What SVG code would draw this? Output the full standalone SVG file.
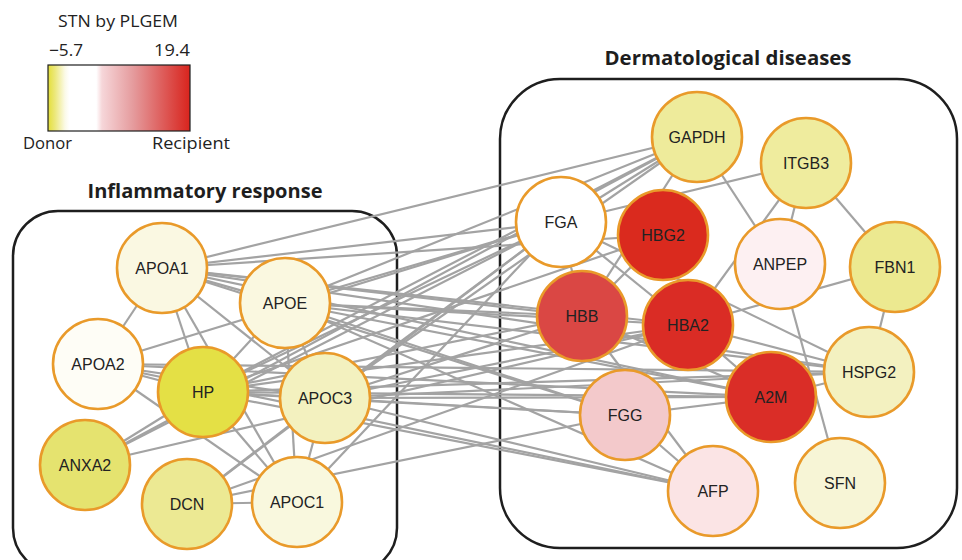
<svg xmlns="http://www.w3.org/2000/svg" width="962" height="560" viewBox="0 0 962 560">
<defs>
<linearGradient id="lg" x1="0" y1="0" x2="1" y2="0">
<stop offset="0" stop-color="#e4df3a"/>
<stop offset="0.05" stop-color="#ece87c"/>
<stop offset="0.12" stop-color="#fbfae8"/>
<stop offset="0.15" stop-color="#ffffff"/>
<stop offset="0.34" stop-color="#ffffff"/>
<stop offset="0.38" stop-color="#f6d6d9"/>
<stop offset="0.6" stop-color="#e59b9d"/>
<stop offset="0.8" stop-color="#de5f5d"/>
<stop offset="1" stop-color="#d8241d"/>
</linearGradient>
</defs>
<style>
.box{fill:none;stroke:#1e1e1e;stroke-width:2.5}
.title{font-family:"Open Sans","Liberation Sans",sans-serif;font-weight:700;font-size:19px;fill:#1e1e1e;text-anchor:middle}
.leg{font-family:"Open Sans","Liberation Sans",sans-serif;font-size:16.5px;fill:#222}
#edges line{stroke:#a3a3a3;stroke-width:2.2}
.node circle{stroke:#e99a2a;stroke-width:2.6}
.node text{font-family:"Liberation Sans",Arial,sans-serif;font-size:16px;fill:#222;text-anchor:middle}
</style>
<rect width="962" height="560" fill="#ffffff"/>
<!-- legend -->
<g id="legend">
<text class="leg" x="58" y="27" textLength="120" lengthAdjust="spacingAndGlyphs">STN by PLGEM</text>
<text class="leg" x="49" y="56" textLength="34" lengthAdjust="spacingAndGlyphs">−5.7</text>
<text class="leg" x="154" y="56" textLength="36" lengthAdjust="spacingAndGlyphs">19.4</text>
<rect x="48" y="65" width="142" height="66" fill="url(#lg)" stroke="#1e1e1e" stroke-width="1.2"/>
<text class="leg" x="23" y="149" textLength="49" lengthAdjust="spacingAndGlyphs">Donor</text>
<text class="leg" x="152" y="149" textLength="78" lengthAdjust="spacingAndGlyphs">Recipient</text>
</g>
<!-- group boxes -->
<g id="groups">
<rect class="box" x="13" y="211" width="384" height="362" rx="45"/>
<text class="title" x="205" y="198" textLength="235" lengthAdjust="spacingAndGlyphs">Inflammatory response</text>
<rect class="box" x="500" y="79" width="457" height="469" rx="60"/>
<text class="title" x="728" y="65" textLength="247" lengthAdjust="spacingAndGlyphs">Dermatological diseases</text>
</g>
<g id="edges">
<!-- left internal -->
<line x1="162" y1="268" x2="98" y2="364"/>
<line x1="162" y1="268" x2="203" y2="392"/>
<line x1="162" y1="268" x2="297" y2="502"/>
<line x1="162" y1="268" x2="325" y2="398"/>
<line x1="162" y1="268" x2="285" y2="303"/>
<line x1="285" y1="303" x2="203" y2="392"/>
<line x1="285" y1="303" x2="325" y2="398"/>
<line x1="285" y1="303" x2="297" y2="502"/>
<line x1="98" y1="364" x2="203" y2="392"/>
<line x1="98" y1="364" x2="325" y2="398"/>
<line x1="98" y1="364" x2="297" y2="502"/>
<line x1="203" y1="392" x2="325" y2="398"/>
<line x1="203" y1="392" x2="297" y2="502"/>
<line x1="203" y1="392" x2="85" y2="465"/>
<line x1="325" y1="398" x2="297" y2="502"/>
<line x1="325" y1="398" x2="187" y2="504"/>
<line x1="187" y1="504" x2="297" y2="502"/>
<!-- cross: APOA1 -->
<line x1="162" y1="268" x2="697" y2="137"/>
<line x1="162" y1="268" x2="561" y2="222"/>
<line x1="162" y1="268" x2="582" y2="316"/>
<line x1="162" y1="268" x2="688" y2="325"/>
<line x1="162" y1="268" x2="869" y2="372"/>
<line x1="162" y1="268" x2="771" y2="397"/>
<line x1="162" y1="268" x2="625" y2="415"/>
<line x1="162" y1="268" x2="663" y2="235"/>
<!-- APOE -->
<line x1="285" y1="303" x2="697" y2="137"/>
<line x1="285" y1="303" x2="561" y2="222"/>
<line x1="285" y1="303" x2="582" y2="316"/>
<line x1="285" y1="303" x2="688" y2="325"/>
<line x1="285" y1="303" x2="869" y2="372"/>
<line x1="285" y1="303" x2="771" y2="397"/>
<line x1="285" y1="303" x2="625" y2="415"/>
<line x1="285" y1="303" x2="713" y2="491"/>
<!-- HP -->
<line x1="203" y1="392" x2="697" y2="137"/>
<line x1="203" y1="392" x2="561" y2="222"/>
<line x1="203" y1="392" x2="663" y2="235"/>
<line x1="203" y1="392" x2="582" y2="316"/>
<line x1="203" y1="392" x2="688" y2="325"/>
<line x1="203" y1="392" x2="869" y2="372"/>
<line x1="203" y1="392" x2="771" y2="397"/>
<line x1="203" y1="392" x2="625" y2="415"/>
<line x1="203" y1="392" x2="713" y2="491"/>
<!-- APOC3 -->
<line x1="325" y1="398" x2="697" y2="137"/>
<line x1="325" y1="398" x2="561" y2="222"/>
<line x1="325" y1="398" x2="582" y2="316"/>
<line x1="325" y1="398" x2="688" y2="325"/>
<line x1="325" y1="398" x2="869" y2="372"/>
<line x1="325" y1="398" x2="771" y2="397"/>
<line x1="325" y1="398" x2="625" y2="415"/>
<line x1="325" y1="398" x2="713" y2="491"/>
<!-- APOA2 -->
<line x1="98" y1="364" x2="561" y2="222"/>
<line x1="98" y1="364" x2="869" y2="372"/>
<line x1="98" y1="364" x2="771" y2="397"/>
<line x1="98" y1="364" x2="713" y2="491"/>
<!-- DCN, ANXA2, APOC1 -->
<line x1="187" y1="504" x2="688" y2="325"/>
<line x1="187" y1="504" x2="625" y2="415"/>
<line x1="187" y1="504" x2="561" y2="222"/>
<line x1="85" y1="465" x2="561" y2="222"/>
<line x1="85" y1="465" x2="697" y2="137"/>
<line x1="85" y1="465" x2="688" y2="325"/>
<line x1="297" y1="502" x2="561" y2="222"/>
<!-- right internal -->
<line x1="697" y1="137" x2="780" y2="264"/>
<line x1="697" y1="137" x2="582" y2="316"/>
<line x1="697" y1="137" x2="561" y2="222"/>
<line x1="806" y1="163" x2="561" y2="222"/>
<line x1="806" y1="163" x2="780" y2="264"/>
<line x1="806" y1="163" x2="688" y2="325"/>
<line x1="806" y1="163" x2="895" y2="267"/>
<line x1="895" y1="267" x2="869" y2="372"/>
<line x1="895" y1="267" x2="688" y2="325"/>
<line x1="780" y1="264" x2="840" y2="483"/>
<line x1="663" y1="235" x2="582" y2="316"/>
<line x1="561" y1="222" x2="582" y2="316"/>
<line x1="561" y1="222" x2="688" y2="325"/>
<line x1="561" y1="222" x2="869" y2="372"/>
<line x1="582" y1="316" x2="771" y2="397"/>
<line x1="688" y1="325" x2="771" y2="397"/>
<line x1="582" y1="316" x2="713" y2="491"/>
<line x1="625" y1="415" x2="771" y2="397"/>
<line x1="625" y1="415" x2="713" y2="491"/>
<line x1="771" y1="397" x2="869" y2="372"/>
<line x1="688" y1="325" x2="869" y2="372"/>
</g>
<!-- nodes -->
<g id="n-APOA1" class="node"><circle cx="162" cy="268" r="45" fill="#faf8e2"/><text x="162" y="274">APOA1</text></g>
<g id="n-APOE" class="node"><circle cx="285" cy="303" r="45" fill="#faf8e0"/><text x="285" y="309">APOE</text></g>
<g id="n-APOA2" class="node"><circle cx="98" cy="364" r="45" fill="#fefdf6"/><text x="98" y="370">APOA2</text></g>
<g id="n-HP" class="node"><circle cx="203" cy="392" r="45" fill="#e4e045"/><text x="203" y="398">HP</text></g>
<g id="n-APOC3" class="node"><circle cx="325" cy="398" r="45" fill="#f3f1bf"/><text x="325" y="404">APOC3</text></g>
<g id="n-ANXA2" class="node"><circle cx="85" cy="465" r="45" fill="#e5e36f"/><text x="85" y="471">ANXA2</text></g>
<g id="n-DCN" class="node"><circle cx="187" cy="504" r="45" fill="#ece993"/><text x="187" y="510">DCN</text></g>
<g id="n-APOC1" class="node"><circle cx="297" cy="502" r="45" fill="#f9f8de"/><text x="297" y="508">APOC1</text></g>
<g id="n-GAPDH" class="node"><circle cx="697" cy="137" r="45" fill="#eeeb9b"/><text x="697" y="143">GAPDH</text></g>
<g id="n-ITGB3" class="node"><circle cx="806" cy="163" r="45" fill="#efec9e"/><text x="806" y="169">ITGB3</text></g>
<g id="n-FGA" class="node"><circle cx="561" cy="222" r="45" fill="#ffffff"/><text x="561" y="228">FGA</text></g>
<g id="n-HBG2" class="node"><circle cx="663" cy="235" r="45" fill="#da2a1e"/><text x="663" y="241">HBG2</text></g>
<g id="n-ANPEP" class="node"><circle cx="780" cy="264" r="45" fill="#fdf0f2"/><text x="780" y="270">ANPEP</text></g>
<g id="n-FBN1" class="node"><circle cx="895" cy="267" r="45" fill="#ece990"/><text x="895" y="273">FBN1</text></g>
<g id="n-HBB" class="node"><circle cx="582" cy="316" r="45" fill="#da4744"/><text x="582" y="322">HBB</text></g>
<g id="n-HBA2" class="node"><circle cx="688" cy="325" r="45" fill="#da2c25"/><text x="688" y="331">HBA2</text></g>
<g id="n-HSPG2" class="node"><circle cx="869" cy="372" r="45" fill="#f3f1c0"/><text x="869" y="378">HSPG2</text></g>
<g id="n-A2M" class="node"><circle cx="771" cy="397" r="45" fill="#da2d27"/><text x="771" y="403">A2M</text></g>
<g id="n-FGG" class="node"><circle cx="625" cy="415" r="45" fill="#f3c9cb"/><text x="625" y="421">FGG</text></g>
<g id="n-AFP" class="node"><circle cx="713" cy="491" r="45" fill="#fbe4e5"/><text x="713" y="497">AFP</text></g>
<g id="n-SFN" class="node"><circle cx="840" cy="483" r="45" fill="#f7f5d6"/><text x="840" y="489">SFN</text></g>
</svg>
